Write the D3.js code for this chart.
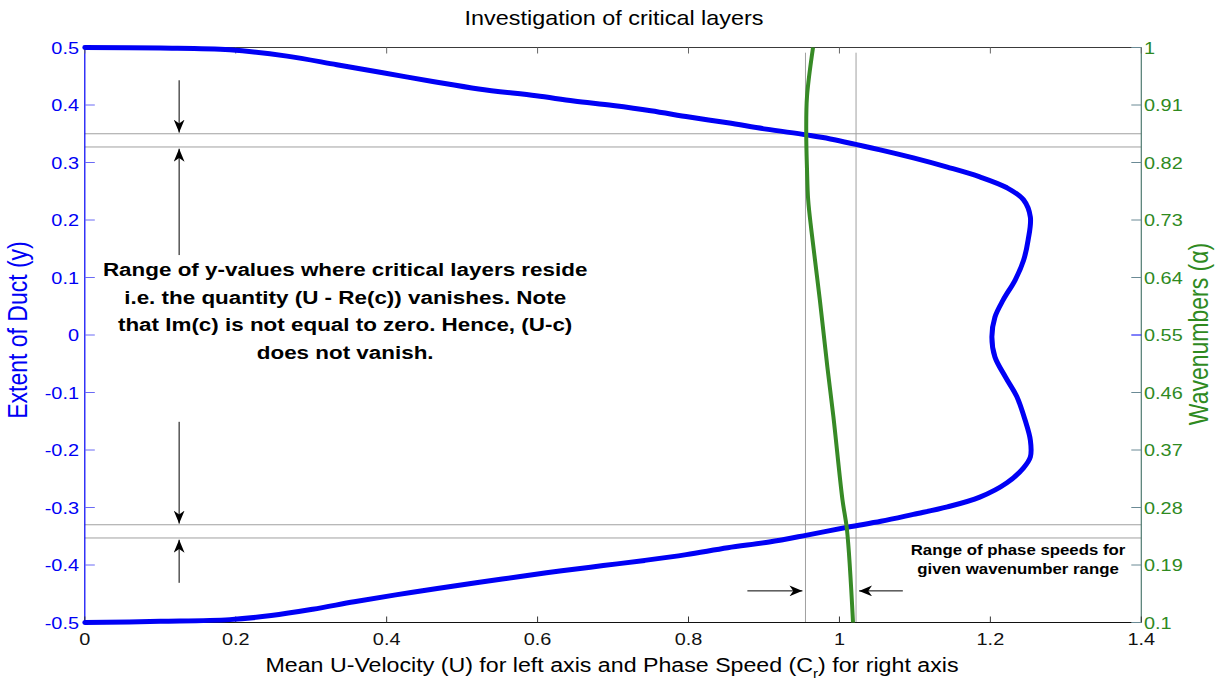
<!DOCTYPE html>
<html>
<head>
<meta charset="utf-8">
<script src="https://cdn.jsdelivr.net/npm/d3@7"></script>
<style>
  html, body { margin: 0; padding: 0; background: #ffffff; }
  svg { display: block; font-family: "Liberation Sans", Arial, Helvetica, sans-serif; }
</style>
</head>
<body>
<svg id="chart" width="1215" height="681"></svg>
<script>
// ---- Data ----
const meanU = [0, 0.1, 0.192, 0.268, 0.334, 0.395, 0.461, 0.522, 0.598, 0.648, 0.700, 0.750, 0.801, 0.852, 0.903, 0.956, 0.988, 1.054, 1.098, 1.143, 1.186, 1.222, 1.244, 1.253, 1.250, 1.244, 1.233, 1.217, 1.206, 1.202, 1.206, 1.220, 1.235, 1.246, 1.253, 1.253, 1.244, 1.222, 1.186, 1.143, 1.098, 1.055, 1.012, 0.957, 0.907, 0.852, 0.797, 0.742, 0.687, 0.632, 0.577, 0.523, 0.467, 0.412, 0.357, 0.302, 0.247, 0.192, 0.1, 0];
const ductY = [0.5, 0.499, 0.496, 0.485, 0.470, 0.456, 0.441, 0.428, 0.416, 0.407, 0.399, 0.390, 0.379, 0.369, 0.358, 0.348, 0.341, 0.322, 0.308, 0.292, 0.275, 0.256, 0.235, 0.205, 0.165, 0.130, 0.096, 0.061, 0.031, -0.003, -0.038, -0.073, -0.107, -0.148, -0.183, -0.212, -0.231, -0.257, -0.282, -0.299, -0.312, -0.324, -0.334, -0.348, -0.360, -0.370, -0.382, -0.392, -0.401, -0.410, -0.420, -0.430, -0.441, -0.452, -0.464, -0.477, -0.488, -0.495, -0.498, -0.5];

const phaseSpeed = [0.965, 0.957, 0.956, 0.957, 0.9586, 0.963, 0.974, 0.984, 0.992, 1.004, 1.010, 1.018];
const wavenumber = [1.0, 0.923, 0.865, 0.81, 0.761, 0.712, 0.605, 0.500, 0.422, 0.292, 0.245, 0.1];

const critLayerY = [0.35, 0.327, -0.33, -0.353];
const critPhaseC = [0.955, 1.022];

const xTicks = [0, 0.2, 0.4, 0.6, 0.8, 1, 1.2, 1.4];
const xTickLabels = ["0", "0.2", "0.4", "0.6", "0.8", "1", "1.2", "1.4"];
const yTicks = [0.5, 0.4, 0.3, 0.2, 0.1, 0, -0.1, -0.2, -0.3, -0.4, -0.5];
const yTickLabels = ["0.5", "0.4", "0.3", "0.2", "0.1", "0", "-0.1", "-0.2", "-0.3", "-0.4", "-0.5"];
const alphaTicks = [1, 0.91, 0.82, 0.73, 0.64, 0.55, 0.46, 0.37, 0.28, 0.19, 0.1];
const alphaTickLabels = ["1", "0.91", "0.82", "0.73", "0.64", "0.55", "0.46", "0.37", "0.28", "0.19", "0.1"];

const annotationLines = [
  "Range of y-values where critical layers reside",
  "i.e. the quantity (U - Re(c)) vanishes. Note",
  "that Im(c) is not equal to zero. Hence, (U-c)",
  "does not vanish."
];
const phaseNoteLines = ["Range of phase speeds for", "given wavenumber range"];

// ---- Layout ----
const L = 84.8, R = 1141.3, T = 47.5, B = 622.5;
const SX = 1.17; // horizontal text stretch of the original rendering
const BLUE = "#0000f5", GREEN = "#378a26", GREEN_TXT = "#2f8a1f";

const svg = d3.select("#chart");
const x = d3.scaleLinear().domain([0, 1.4]).range([L, R]);
const y = d3.scaleLinear().domain([-0.5, 0.5]).range([B, T]);
const yR = d3.scaleLinear().domain([0.1, 1]).range([B, T]);

// helper: text at (px,py) stretched horizontally
function stretchedText(parent, px, py, sx) {
  return parent.append("g").attr("transform", `translate(${px},${py}) scale(${sx},1)`)
    .append("text").attr("x", 0).attr("y", 0);
}

// arrow marker
const defs = svg.append("defs");
defs.append("marker")
  .attr("id", "ah").attr("viewBox", "0 0 12 10").attr("refX", 12).attr("refY", 5)
  .attr("markerWidth", 13).attr("markerHeight", 11).attr("markerUnits", "userSpaceOnUse")
  .attr("orient", "auto")
  .append("path").attr("d", "M0,0 L12,5 L0,10 L3.5,5 Z").attr("fill", "#000");

// critical-layer horizontal lines
svg.append("g").selectAll("line").data(critLayerY).join("line")
  .attr("x1", L).attr("x2", R).attr("y1", d => y(d)).attr("y2", d => y(d))
  .attr("stroke", "#a0a0a0").attr("stroke-width", 1);

// phase-speed vertical lines
svg.append("g").selectAll("line").data(critPhaseC).join("line")
  .attr("x1", d => x(d)).attr("x2", d => x(d)).attr("y1", y(0.491)).attr("y2", B)
  .attr("stroke", "#a0a0a0").attr("stroke-width", 1);

// axes frame
svg.append("line").attr("x1", L).attr("x2", R).attr("y1", T).attr("y2", T).attr("stroke", "#3a3a3a").attr("stroke-width", 1);
svg.append("line").attr("x1", L).attr("x2", R).attr("y1", B).attr("y2", B).attr("stroke", "#111").attr("stroke-width", 1.2);
svg.append("line").attr("x1", L).attr("x2", L).attr("y1", T).attr("y2", B).attr("stroke", BLUE).attr("stroke-width", 1.2);
svg.append("line").attr("x1", R).attr("x2", R).attr("y1", T).attr("y2", B).attr("stroke", "#4f7a70").attr("stroke-width", 1.2);

// x ticks (inward, bottom and top)
const xg = svg.append("g");
xg.selectAll("line.b").data(xTicks).join("line").attr("class", "b")
  .attr("x1", d => x(d)).attr("x2", d => x(d)).attr("y1", B).attr("y2", B - 6)
  .attr("stroke", "#333").attr("stroke-width", 1);
xg.selectAll("line.t").data(xTicks).join("line").attr("class", "t")
  .attr("x1", d => x(d)).attr("x2", d => x(d)).attr("y1", T).attr("y2", T + 6)
  .attr("stroke", "#666").attr("stroke-width", 1);
xTicks.forEach((d, i) => {
  stretchedText(xg, x(d), 645, SX).attr("text-anchor", "middle")
    .attr("font-size", 17).attr("fill", "#111").text(xTickLabels[i]);
});

// left y ticks
const yg = svg.append("g");
yg.selectAll("line").data(yTicks).join("line")
  .attr("x1", L).attr("x2", L + 10).attr("y1", d => y(d)).attr("y2", d => y(d))
  .attr("stroke", "#6a6af5").attr("stroke-width", 1);
yTicks.forEach((d, i) => {
  stretchedText(yg, 79, y(d) + 6, SX).attr("text-anchor", "end")
    .attr("font-size", 17).attr("fill", BLUE).text(yTickLabels[i]);
});

// right alpha ticks
const rg = svg.append("g");
rg.selectAll("line").data(alphaTicks).join("line")
  .attr("x1", R).attr("x2", R - 10).attr("y1", d => yR(d)).attr("y2", d => yR(d))
  .attr("stroke", d => d === 0.55 ? BLUE : "#6a8a95").attr("stroke-width", 1);
alphaTicks.forEach((d, i) => {
  stretchedText(rg, 1144, yR(d) + 6, SX).attr("text-anchor", "start")
    .attr("font-size", 17).attr("fill", GREEN_TXT).text(alphaTickLabels[i]);
});

// curves
const blueLine = d3.line().x(d => x(d[0])).y(d => y(d[1])).curve(d3.curveCatmullRom.alpha(0.5));
svg.append("path").datum(meanU.map((u, i) => [u, ductY[i]]))
  .attr("d", blueLine).attr("fill", "none").attr("stroke", BLUE)
  .attr("stroke-width", 5).attr("stroke-linejoin", "round").attr("stroke-linecap", "round");

const greenLine = d3.line().x(d => x(d[0])).y(d => yR(d[1])).curve(d3.curveCatmullRom.alpha(0.5));
svg.append("path").datum(phaseSpeed.map((c, i) => [c, wavenumber[i]]))
  .attr("d", greenLine).attr("fill", "none").attr("stroke", GREEN)
  .attr("stroke-width", 4).attr("stroke-linejoin", "round");

// arrows
const arrows = [
  [0.125, 0.443, 0.125, 0.352],
  [0.125, 0.139, 0.125, 0.324],
  [0.125, -0.151, 0.125, -0.328],
  [0.125, -0.431, 0.125, -0.356],
  [0.878, -0.445, 0.951, -0.445],
  [1.084, -0.445, 1.026, -0.445]
];
svg.append("g").selectAll("line").data(arrows).join("line")
  .attr("x1", d => x(d[0])).attr("y1", d => y(d[1]))
  .attr("x2", d => x(d[2])).attr("y2", d => y(d[3]))
  .attr("stroke", "#000").attr("stroke-width", 1)
  .attr("marker-end", "url(#ah)");

// annotation text
annotationLines.forEach((t, i) => {
  stretchedText(svg, x(0.345), 276 + i * 27.7, 1.18).attr("text-anchor", "middle")
    .attr("font-weight", "bold").attr("font-size", 19).attr("fill", "#000").text(t);
});
phaseNoteLines.forEach((t, i) => {
  stretchedText(svg, 1018, 555 + i * 18.5, 1.2).attr("text-anchor", "middle")
    .attr("font-weight", "bold").attr("font-size", 14).attr("fill", "#000").text(t);
});

// title
stretchedText(svg, 614, 25, SX).attr("text-anchor", "middle")
  .attr("font-size", 20).attr("fill", "#000").text("Investigation of critical layers");

// x label
const xl = stretchedText(svg, 612, 672, 1.16).attr("text-anchor", "middle")
  .attr("font-size", 20).attr("fill", "#000");
xl.append("tspan").text("Mean U-Velocity (U) for left axis and Phase Speed (C");
xl.append("tspan").attr("font-size", 13).attr("dy", 6).text("r");
xl.append("tspan").attr("dy", -6).text(") for right axis");

// left y label
svg.append("g").attr("transform", `translate(27,330) scale(${SX},1) rotate(-90)`)
  .append("text").attr("text-anchor", "middle").attr("font-size", 23).attr("fill", BLUE)
  .text("Extent of Duct (y)");

// right y label
const ryl = svg.append("g").attr("transform", `translate(1208,334) scale(${SX},1) rotate(-90)`)
  .append("text").attr("text-anchor", "middle").attr("font-size", 23).attr("fill", GREEN_TXT);
ryl.append("tspan").text("Wavenumbers (");
ryl.append("tspan").text("α");
ryl.append("tspan").text(")");
</script>
</body>
</html>
